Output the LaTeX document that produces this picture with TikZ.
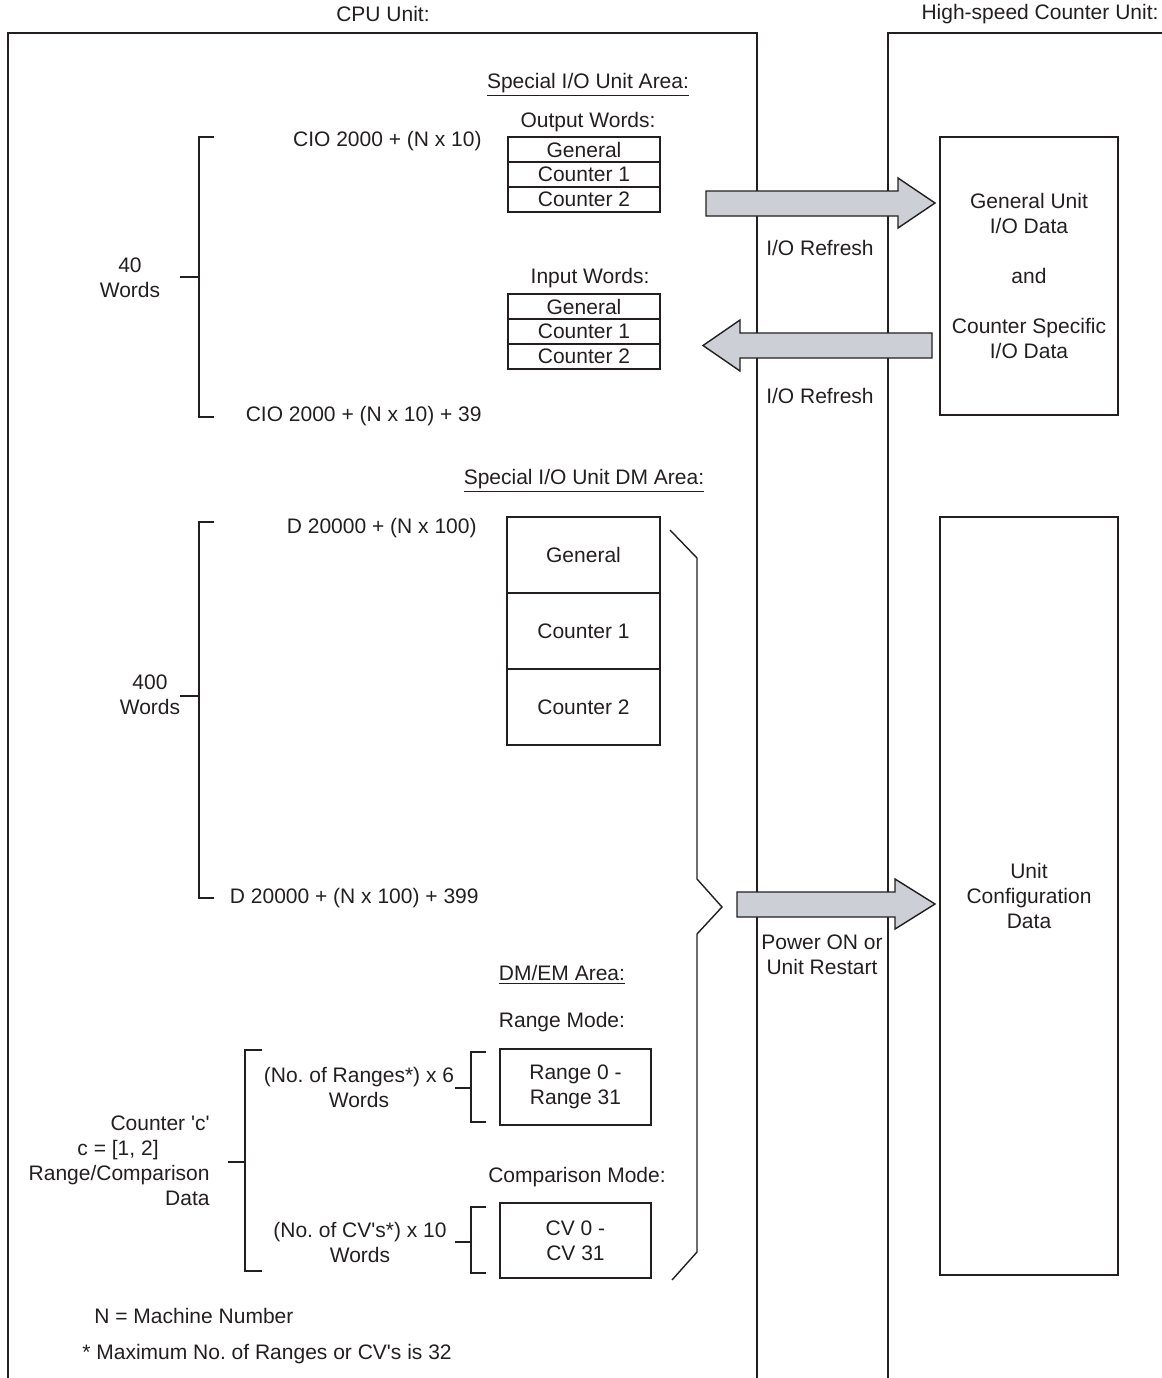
\documentclass[tikz,border=0pt]{standalone}
\usepackage{fontspec}
\setmainfont{Liberation Sans}
\usetikzlibrary{positioning}

\definecolor{ink}{HTML}{231F20}
\definecolor{arrowfill}{HTML}{CCCFD5}
\frenchspacing

\begin{document}
\begin{tikzpicture}[x=0.5pt, y=-0.5pt, font=\fontsize{10.5}{12.5}\selectfont, text=ink,
  line/.style={draw=ink, line width=0.7pt},
  cell/.style={draw=ink, line width=0.7pt, minimum width=76pt, minimum height=12.5pt, inner sep=0pt, outer sep=0pt},
  dmcell/.style={cell, minimum height=38pt},
  modebox/.style={cell, minimum width=75.5pt, minimum height=38pt, align=center},
  unitbox/.style={draw=ink, line width=0.7pt, minimum width=89pt, align=center, inner sep=0pt},
  lab/.style={align=center, inner sep=1pt},
  fat/.style={draw=ink, line width=0.7pt, fill=arrowfill, line join=miter}]
\useasboundingbox (0,0) rectangle (1162,1378);

% unit frames
\node[lab] (cpu) at (383,14) {CPU Unit:};
\node[lab] (hsc) at (1040,14) {High-speed Counter Unit:};
\draw[line] (8,1378) -- (8,33) -- (757,33) -- (757,1378);
\draw[line] (888,1378) -- (888,33) -- (1162,33);

% special I/O unit area
\node[lab] (sioa) at (588,85) {\underline{Special I/O Unit Area:}};
\node[lab] (outw) at (588,122) {Output Words:};
\node[cell] (og) at (584,149.5) {General};
\node[cell, below=0pt of og] (o1) {Counter 1};
\node[cell, below=0pt of o1] (o2) {Counter 2};
\node[lab] (inw) at (590,278) {Input Words:};
\node[cell] (ig) at (584,306.5) {General};
\node[cell, below=0pt of ig] (i1) {Counter 1};
\node[cell, below=0pt of i1] (i2) {Counter 2};

\node[lab, anchor=east] (ciotop) at (484,141) {CIO 2000 + (N x 10)};
\node[lab, anchor=east] (ciobot) at (484,416) {CIO 2000 + (N x 10) + 39};
\node[lab] (w40) at (130,278) {40\\Words};
\draw[line] (214,137) -- (199,137) -- (199,417) -- (214,417);
\draw[line] (180,277) -- (199,277);

\node[unitbox, minimum height=139pt] (iodata) at (1029,276)
  {General Unit\\I/O Data\\[12.5pt]and\\[12.5pt]Counter Specific\\I/O Data};

\filldraw[fat] (706,191) -- (898,191) -- (898,178) -- (935,203) -- (898,228) -- (898,216) -- (706,216) -- cycle;
\filldraw[fat] (932,333) -- (740,333) -- (740,320) -- (703,345.5) -- (740,371) -- (740,358) -- (932,358) -- cycle;
\node[lab] (ref1) at (820,248) {I/O Refresh};
\node[lab] (ref2) at (820,396) {I/O Refresh};

% DM area
\node[lab] (dma) at (584,481) {\underline{Special I/O Unit DM Area:}};
\node[dmcell, minimum width=76.5pt] (dg) at (583.5,555) {General};
\node[dmcell, minimum width=76.5pt, below=0pt of dg] (d1) {Counter 1};
\node[dmcell, minimum width=76.5pt, below=0pt of d1] (d2) {Counter 2};
\node[lab, anchor=east] (dmtop) at (479,528) {D 20000 + (N x 100)};
\node[lab, anchor=east] (dmbot) at (481,898) {D 20000 + (N x 100) + 399};
\node[lab] (w400) at (150,695) {400\\Words};
\draw[line] (214,522) -- (199,522) -- (199,898) -- (214,898);
\draw[line] (180,696) -- (199,696);

% brace round the setting areas
\draw[line] (670,530) -- (697,558) -- (697,879) -- (722,907) -- (697,934) -- (697,1252) -- (672,1280);

\node[unitbox, minimum height=379pt] (cfg) at (1029,896) {Unit\\Configuration\\Data};
\filldraw[fat] (737,892) -- (895,892) -- (895,879) -- (935,904) -- (895,929) -- (895,917) -- (737,917) -- cycle;
\node[lab] (pwr) at (822,955) {Power ON or\\Unit Restart};

% DM/EM area
\node[lab] (dmem) at (562,975) {\underline{DM/EM Area:}};
\node[lab] (rmode) at (562,1022) {Range Mode:};
\node[modebox] (rng) at (575.5,1087) {Range 0 -\\Range 31};
\node[lab] (cmode) at (577,1177) {Comparison Mode:};
\node[modebox, minimum height=37.5pt] (cv) at (575.5,1240.5) {CV 0 -\\CV 31};

\node[lab] (rngw) at (359,1087) {(No. of Ranges*) x 6\\Words};
\node[lab] (cvw) at (360,1242) {(No. of CV\textquotesingle s*) x 10\\Words};
\draw[line] (486,1052) -- (471,1052) -- (471,1122) -- (486,1122);
\draw[line] (455,1088) -- (471,1088);
\draw[line] (486,1207) -- (471,1207) -- (471,1273) -- (486,1273);
\draw[line] (455,1242) -- (471,1242);

\node[lab, align=right, anchor=east] (ctr) at (212,1161)
  {Counter \textquotesingle c\textquotesingle\\c = [1, 2]\rule{25.5pt}{0pt}\\Range/Comparison\\Data};
\draw[line] (262,1050) -- (245,1050) -- (245,1271) -- (262,1271);
\draw[line] (228,1162) -- (245,1162);

% notes
\node[lab, anchor=west] (noten) at (92,1316) {N = Machine Number};
\node[lab, anchor=west] (notemax) at (80,1354) {* Maximum No. of Ranges or CV\textquotesingle s is 32};
\end{tikzpicture}
\end{document}
